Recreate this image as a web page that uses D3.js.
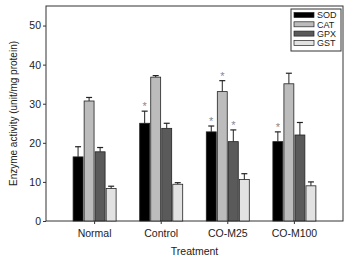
<!DOCTYPE html>
<html>
<head>
<meta charset="utf-8">
<script src="https://cdn.jsdelivr.net/npm/d3@7"></script>
<style>
  body { margin: 0; background: #fff; }
  text { font-family: "Liberation Sans", Arial, sans-serif; fill: #222; }
</style>
</head>
<body>
<div id="chart-area"></div>
<script>
// data
var treatments = ["Normal", "Control", "CO-M25", "CO-M100"];
var enzymes = ["SOD", "CAT", "GPX", "GST"];
var sod = [16.4, 25.0, 22.8, 20.3];
var cat = [30.7, 36.8, 33.1, 35.1];
var gpx = [17.7, 23.7, 20.3, 22.0];
var gst = [8.3, 9.4, 10.6, 9.0];
var sodErr = [2.6, 3.1, 1.5, 2.5];
var catErr = [0.9, 0.4, 2.8, 2.7];
var gpxErr = [1.1, 1.3, 3.0, 3.2];
var gstErr = [0.6, 0.4, 1.5, 1.0];
var sodStar = [false, true, true, true];
var catStar = [false, false, true, false];
var gpxStar = [false, false, true, false];
var gstStar = [false, false, false, false];
var yTicks = [0, 10, 20, 30, 40, 50];

var colors = ["#000000", "#bcbcbc", "#5a5a5a", "#e2e2e2"];

var W = 347, H = 259;
var margin = {top: 6, right: 4, bottom: 38, left: 46};
var w = W - margin.left - margin.right;
var h = H - margin.top - margin.bottom;

var svg = d3.select("#chart-area").append("svg")
    .attr("width", W)
    .attr("height", H);

var g = svg.append("g")
    .attr("transform", "translate(" + margin.left + "," + margin.top + ")");

var x = d3.scaleBand()
    .domain(treatments)
    .range([0, w])
    .paddingInner(0)
    .paddingOuter(0.23);

var xs = d3.scaleBand()
    .domain(enzymes)
    .range([-21.5, 21.5])
    .paddingInner(0.1);

var y = d3.scaleLinear()
    .domain([0, 55])
    .range([h, 0]);

var values = [sod, cat, gpx, gst];
var errs = [sodErr, catErr, gpxErr, gstErr];
var stars = [sodStar, catStar, gpxStar, gstStar];

var rows = [];
enzymes.forEach(function(e, i) {
    treatments.forEach(function(t, j) {
        rows.push({t: t, e: e, v: values[i][j], err: errs[i][j], star: stars[i][j], c: colors[i]});
    });
});

// frame
g.append("rect")
    .attr("x", 0).attr("y", 0)
    .attr("width", w).attr("height", h)
    .attr("fill", "none")
    .attr("stroke", "#333")
    .attr("stroke-width", 1);

// error bars
var eb = g.selectAll(".err").data(rows).enter().append("g").attr("class", "err");
function cx(d) { return x(d.t) + x.bandwidth() / 2 + xs(d.e) + xs.bandwidth() / 2; }
eb.append("line")
    .attr("x1", cx).attr("x2", cx)
    .attr("y1", function(d) { return y(d.v); })
    .attr("y2", function(d) { return y(d.v + d.err); })
    .attr("stroke", "#222").attr("stroke-width", 1);
eb.append("line")
    .attr("x1", function(d) { return cx(d) - 3; })
    .attr("x2", function(d) { return cx(d) + 3; })
    .attr("y1", function(d) { return y(d.v + d.err); })
    .attr("y2", function(d) { return y(d.v + d.err); })
    .attr("stroke", "#222").attr("stroke-width", 1.2);

// bars
g.selectAll(".bar").data(rows).enter().append("rect")
    .attr("class", "bar")
    .attr("x", function(d) { return x(d.t) + x.bandwidth() / 2 + xs(d.e); })
    .attr("y", function(d) { return y(d.v); })
    .attr("width", xs.bandwidth())
    .attr("height", function(d) { return h - y(d.v); })
    .attr("fill", function(d) { return d.c; })
    .attr("stroke", "#222")
    .attr("stroke-width", 0.8);

// significance marks
g.selectAll(".star").data(rows.filter(function(d) { return d.star; })).enter().append("text")
    .attr("class", "star")
    .attr("x", cx)
    .attr("y", function(d) { return y(d.v + d.err) - 1; })
    .attr("text-anchor", "middle")
    .attr("font-size", "11px")
    .style("fill", "#888")
    .text("*");

// axes
var yAxis = d3.axisLeft(y).tickValues(yTicks).tickSize(3).tickPadding(2);
var yg = g.append("g").call(yAxis);
yg.select(".domain").remove();
yg.selectAll("line").attr("stroke", "#333");
yg.selectAll("text").attr("font-size", "10.5px").style("fill", "#222");

var xAxis = d3.axisBottom(x).tickSize(3).tickPadding(6);
var xg = g.append("g").attr("transform", "translate(0," + h + ")").call(xAxis);
xg.select(".domain").remove();
xg.selectAll("line").attr("stroke", "#333");
xg.selectAll("text").attr("font-size", "10.5px").style("fill", "#222");

g.append("text")
    .attr("x", w / 2)
    .attr("y", h + 34)
    .attr("text-anchor", "middle")
    .attr("font-size", "10.5px")
    .text("Treatment");

g.append("text")
    .attr("transform", "rotate(-90)")
    .attr("x", -h / 2)
    .attr("y", -29)
    .attr("text-anchor", "middle")
    .attr("font-size", "10px")
    .text("Enzyme activity (unit/mg protein)");

// legend
var lg = g.append("g").attr("transform", "translate(" + (w - 52) + ",3)");
lg.append("rect")
    .attr("width", 50).attr("height", 42)
    .attr("fill", "#fff").attr("stroke", "#333").attr("stroke-width", 1);
var li = lg.selectAll(".li").data(enzymes).enter().append("g")
    .attr("transform", function(d, i) { return "translate(3," + (6 + i * 9.3) + ")"; });
li.append("rect")
    .attr("width", 20).attr("height", 5).attr("y", -2.5)
    .attr("fill", function(d, i) { return colors[i]; })
    .attr("stroke", "#222").attr("stroke-width", 0.7);
li.append("text")
    .attr("x", 23).attr("y", 3.2)
    .attr("font-size", "9px")
    .text(function(d) { return d; });
</script>
</body>
</html>
